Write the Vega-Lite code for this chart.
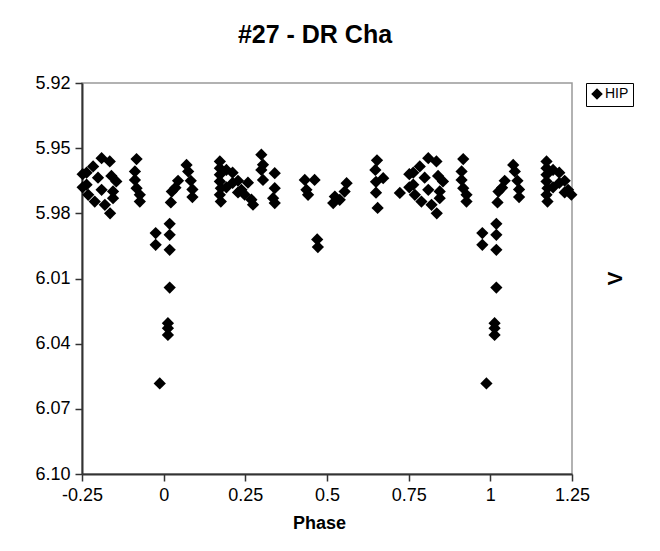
{
  "$schema": "https://vega.github.io/schema/vega-lite/v6.json",
  "width": 490,
  "height": 391,
  "autosize": "none",
  "padding": {"left": 82, "top": 83, "right": 88, "bottom": 77},
  "background": "white",
  "title": {"text": "#27 - DR Cha", "font": "Liberation Sans", "fontSize": 25, "fontWeight": "bold", "color": "black", "anchor": "middle", "offset": 26, "dx": -12},
  "config": {
    "view": {"stroke": "#999999", "strokeWidth": 1.5},
    "axis": {"labelFont": "Liberation Sans", "titleFont": "Liberation Sans", "labelColor": "black", "titleColor": "black", "domainColor": "#333333", "tickColor": "#333333", "domainWidth": 2, "tickWidth": 1.5, "grid": false}
  },
  "data": {"values": [
    {"phase": 0.9755, "v": 5.9891}, {"phase": 0.9755, "v": 5.9945}, {"phase": 0.988, "v": 6.0583},
    {"phase": 0.013, "v": 6.0306}, {"phase": 0.013, "v": 6.0329}, {"phase": 0.013, "v": 6.036},
    {"phase": 0.0184, "v": 5.9848}, {"phase": 0.0184, "v": 5.9899}, {"phase": 0.0184, "v": 5.9968}, {"phase": 0.0184, "v": 6.0142},
    {"phase": 0.022, "v": 5.975}, {"phase": 0.025, "v": 5.97}, {"phase": 0.036, "v": 5.9682}, {"phase": 0.044, "v": 5.965},
    {"phase": 0.07, "v": 5.9577}, {"phase": 0.075, "v": 5.9607}, {"phase": 0.083, "v": 5.965}, {"phase": 0.088, "v": 5.969}, {"phase": 0.088, "v": 5.9725},
    {"phase": 0.172, "v": 5.9561}, {"phase": 0.172, "v": 5.9592}, {"phase": 0.172, "v": 5.9622}, {"phase": 0.172, "v": 5.9653},
    {"phase": 0.175, "v": 5.9684}, {"phase": 0.172, "v": 5.9715}, {"phase": 0.175, "v": 5.9746},
    {"phase": 0.192, "v": 5.96}, {"phase": 0.192, "v": 5.968}, {"phase": 0.211, "v": 5.9613}, {"phase": 0.211, "v": 5.966},
    {"phase": 0.2276, "v": 5.965}, {"phase": 0.238, "v": 5.9692}, {"phase": 0.2276, "v": 5.9704}, {"phase": 0.258, "v": 5.9659},
    {"phase": 0.248, "v": 5.9714}, {"phase": 0.2686, "v": 5.9737}, {"phase": 0.2735, "v": 5.976},
    {"phase": 0.299, "v": 5.953}, {"phase": 0.304, "v": 5.9576}, {"phase": 0.299, "v": 5.96}, {"phase": 0.304, "v": 5.9646},
    {"phase": 0.34, "v": 5.9615}, {"phase": 0.34, "v": 5.9684}, {"phase": 0.335, "v": 5.973}, {"phase": 0.34, "v": 5.9753},
    {"phase": 0.432, "v": 5.9646}, {"phase": 0.462, "v": 5.9646}, {"phase": 0.437, "v": 5.9692}, {"phase": 0.442, "v": 5.9715},
    {"phase": 0.47, "v": 5.992}, {"phase": 0.472, "v": 5.9955},
    {"phase": 0.56, "v": 5.9661}, {"phase": 0.554, "v": 5.97}, {"phase": 0.539, "v": 5.9738}, {"phase": 0.524, "v": 5.9723}, {"phase": 0.519, "v": 5.9753},
    {"phase": 0.653, "v": 5.9556}, {"phase": 0.648, "v": 5.96}, {"phase": 0.65, "v": 5.9655}, {"phase": 0.672, "v": 5.9638}, {"phase": 0.65, "v": 5.9705}, {"phase": 0.655, "v": 5.9775},
    {"phase": 0.723, "v": 5.9706},
    {"phase": 0.752, "v": 5.962}, {"phase": 0.752, "v": 5.968},
    {"phase": 0.81, "v": 5.9546}, {"phase": 0.835, "v": 5.9561}, {"phase": 0.784, "v": 5.9584}, {"phase": 0.764, "v": 5.9613},
    {"phase": 0.799, "v": 5.9636}, {"phase": 0.84, "v": 5.9628}, {"phase": 0.855, "v": 5.9653}, {"phase": 0.764, "v": 5.9668},
    {"phase": 0.81, "v": 5.9692}, {"phase": 0.845, "v": 5.9699}, {"phase": 0.769, "v": 5.9715}, {"phase": 0.845, "v": 5.973},
    {"phase": 0.789, "v": 5.9746}, {"phase": 0.82, "v": 5.9761}, {"phase": 0.836, "v": 5.98},
    {"phase": 0.917, "v": 5.955}, {"phase": 0.912, "v": 5.9607}, {"phase": 0.912, "v": 5.9646}, {"phase": 0.917, "v": 5.9684}, {"phase": 0.927, "v": 5.9715}, {"phase": 0.927, "v": 5.9746},

    {"phase": -0.0245, "v": 5.9891}, {"phase": -0.0245, "v": 5.9945}, {"phase": -0.012, "v": 6.0583},
    {"phase": -0.248, "v": 5.962}, {"phase": -0.248, "v": 5.968},
    {"phase": -0.19, "v": 5.9546}, {"phase": -0.165, "v": 5.9561}, {"phase": -0.216, "v": 5.9584}, {"phase": -0.236, "v": 5.9613},
    {"phase": -0.201, "v": 5.9636}, {"phase": -0.16, "v": 5.9628}, {"phase": -0.145, "v": 5.9653}, {"phase": -0.236, "v": 5.9668},
    {"phase": -0.19, "v": 5.9692}, {"phase": -0.155, "v": 5.9699}, {"phase": -0.231, "v": 5.9715}, {"phase": -0.155, "v": 5.973},
    {"phase": -0.211, "v": 5.9746}, {"phase": -0.18, "v": 5.9761}, {"phase": -0.164, "v": 5.98},
    {"phase": -0.083, "v": 5.955}, {"phase": -0.088, "v": 5.9607}, {"phase": -0.088, "v": 5.9646}, {"phase": -0.083, "v": 5.9684}, {"phase": -0.073, "v": 5.9715}, {"phase": -0.073, "v": 5.9746},

    {"phase": 1.013, "v": 6.0306}, {"phase": 1.013, "v": 6.0329}, {"phase": 1.013, "v": 6.036},
    {"phase": 1.0184, "v": 5.9848}, {"phase": 1.0184, "v": 5.9899}, {"phase": 1.0184, "v": 5.9968}, {"phase": 1.0184, "v": 6.0142},
    {"phase": 1.022, "v": 5.975}, {"phase": 1.025, "v": 5.97}, {"phase": 1.036, "v": 5.9682}, {"phase": 1.044, "v": 5.965},
    {"phase": 1.07, "v": 5.9577}, {"phase": 1.075, "v": 5.9607}, {"phase": 1.083, "v": 5.965}, {"phase": 1.088, "v": 5.969}, {"phase": 1.088, "v": 5.9725},
    {"phase": 1.172, "v": 5.9561}, {"phase": 1.172, "v": 5.9592}, {"phase": 1.172, "v": 5.9622}, {"phase": 1.172, "v": 5.9653},
    {"phase": 1.175, "v": 5.9684}, {"phase": 1.172, "v": 5.9715}, {"phase": 1.175, "v": 5.9746},
    {"phase": 1.192, "v": 5.96}, {"phase": 1.192, "v": 5.968}, {"phase": 1.211, "v": 5.9613}, {"phase": 1.211, "v": 5.966},
    {"phase": 1.2276, "v": 5.965}, {"phase": 1.238, "v": 5.9692}, {"phase": 1.2276, "v": 5.9704}, {"phase": 1.248, "v": 5.9714}
  ]},
  "mark": {"type": "point", "shape": "diamond", "filled": true, "size": 150, "opacity": 1},
  "encoding": {
    "x": {"field": "phase", "type": "quantitative",
      "scale": {"domain": [-0.25, 1.25], "nice": false, "zero": false},
      "axis": {"values": [-0.25, 0, 0.25, 0.5, 0.75, 1, 1.25], "labelExpr": "replace(format(datum.value, '.2~f'), '\u2212', '-')", "title": "Phase", "titleFontSize": 18, "titleFontWeight": "bold", "labelFontSize": 18, "tickSize": 7, "labelPadding": 5, "titlePadding": 10, "titleX": 237, "labelFlush": false, "labelOverlap": false}},
    "y": {"field": "v", "type": "quantitative",
      "scale": {"domain": [5.92, 6.1], "reverse": true, "nice": false, "zero": false},
      "axis": {"values": [5.92, 5.95, 5.98, 6.01, 6.04, 6.07, 6.1], "format": ".2f", "title": "V", "titleFontSize": 21, "titleFontWeight": "bold", "titleAngle": 270, "titleX": 533, "titleY": 195, "titleAlign": "center", "titleBaseline": "middle", "labelFontSize": 18, "tickSize": 7, "labelPadding": 5, "labelFlush": false, "labelOverlap": false}},
    "color": {"datum": "HIP", "type": "nominal", "scale": {"range": ["black"]},
      "legend": {"title": null, "orient": "none", "legendX": 504, "legendY": 0, "strokeColor": "black", "padding": 4, "labelFont": "Liberation Sans", "labelFontSize": 14, "labelColor": "black", "symbolType": "diamond", "symbolSize": 90, "symbolOpacity": 1, "symbolFillColor": "black", "symbolStrokeColor": "black", "labelOffset": 1}}
  }
}
